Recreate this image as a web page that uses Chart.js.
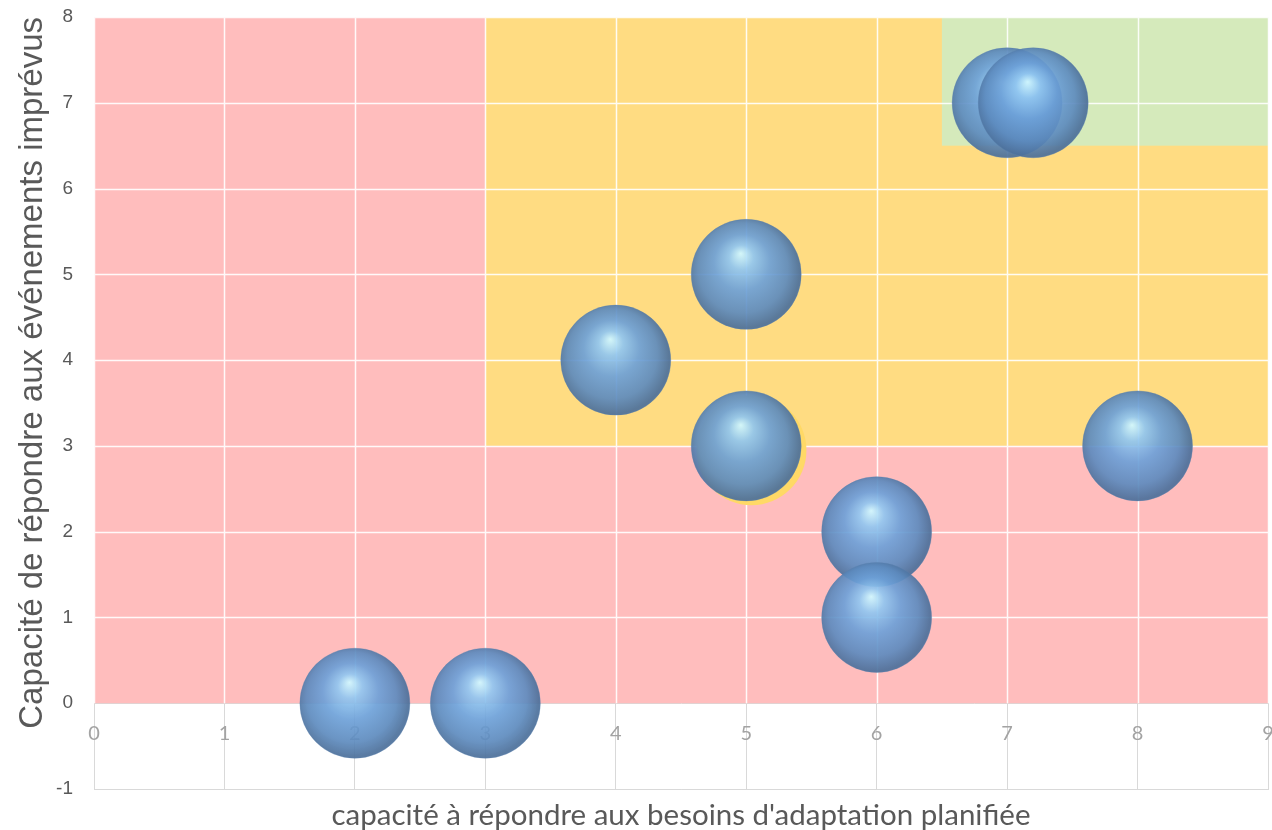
<!DOCTYPE html>
<html>
<head>
<meta charset="utf-8">
<script src="https://cdn.jsdelivr.net/npm/chart.js@4"></script>
<style>
  html, body { margin: 0; padding: 0; background: #fff; }
  #wrap { width: 1272px; height: 830px; }
</style>
</head>
<body>
<div id="wrap"><canvas id="chart"></canvas></div>
<script>
// bubbles (capacité planifiée, capacité imprévus)
const pointsX = [2, 3, 4, 5, 5, 6, 6, 7, 7.2, 8];
const pointsY = [0, 0, 4, 5, 3, 2, 1, 7, 7, 3];
const pointsSize = [1, 1, 1, 1, 1, 1, 1, 1, 1, 1];

// yellow bubble partly hidden behind (5,3)
const hiddenX = [5.04];
const hiddenY = [2.95];

// background zones
const zoneX0 = [0, 3, 6.5];
const zoneX1 = [9, 9, 9];
const zoneY0 = [0, 3, 6.5];
const zoneY1 = [8, 8, 8];
const zoneColors = ['#ffbdbd', '#ffdc82', '#d5eabb'];

const xTicks = [0, 1, 2, 3, 4, 5, 6, 7, 8, 9];
const yTicks = [-1, 0, 1, 2, 3, 4, 5, 6, 7, 8];

const BASE_R = 55;

function sphereFill(ctx) {
    const chart = ctx.chart;
    const xs = chart.scales.x, ys = chart.scales.y;
    if (!xs || !ys || !ctx.raw) return '#6f9fd2';
    const cx = xs.getPixelForValue(ctx.raw.x);
    const cy = ys.getPixelForValue(ctx.raw.y);
    if (!isFinite(cx) || !isFinite(cy)) return '#6f9fd2';
    const r = BASE_R * Math.sqrt(pointsSize[ctx.dataIndex] || 1);
    const g = chart.ctx.createRadialGradient(cx - r * 0.1, cy - r * 0.38, 0, cx - r * 0.05, cy - r * 0.05, r * 1.02);
    g.addColorStop(0, 'rgba(210,248,255,0.95)');
    g.addColorStop(0.22, 'rgba(145,198,240,0.92)');
    g.addColorStop(0.5, 'rgba(108,160,216,0.91)');
    g.addColorStop(0.8, 'rgba(92,138,190,0.91)');
    g.addColorStop(1, 'rgba(76,112,155,0.92)');
    return g;
}

const zonesPlugin = {
    id: 'zones',
    beforeDatasetsDraw(chart) {
        const c = chart.ctx;
        const xs = chart.scales.x, ys = chart.scales.y;
        c.save();
        for (let i = 0; i < zoneColors.length; i++) {
            const l = xs.getPixelForValue(zoneX0[i]);
            const r = xs.getPixelForValue(zoneX1[i]);
            const t = ys.getPixelForValue(zoneY1[i]);
            const b = ys.getPixelForValue(zoneY0[i]);
            c.fillStyle = zoneColors[i];
            c.fillRect(l, t, r - l, b - t);
        }
        // white grid over the coloured part
        const top = ys.getPixelForValue(8), bottom = ys.getPixelForValue(0);
        const left = xs.getPixelForValue(0), right = xs.getPixelForValue(9);
        c.strokeStyle = 'rgba(255,255,255,0.9)';
        c.lineWidth = 1.5;
        c.beginPath();
        xTicks.forEach(v => {
            const p = Math.round(xs.getPixelForValue(v)) + 0.5;
            c.moveTo(p, top); c.lineTo(p, bottom);
        });
        yTicks.filter(v => v > 0).forEach(v => {
            const p = Math.round(ys.getPixelForValue(v)) + 0.5;
            c.moveTo(left, p); c.lineTo(right, p);
        });
        c.stroke();
        // tick labels of x sit on the zero line, under the bubbles
        c.fillStyle = '#a3a3a3';
        c.font = '20px Lato, "Open Sans", sans-serif';
        c.textAlign = 'center';
        c.textBaseline = 'middle';
        const ly = ys.getPixelForValue(0) + 30;
        xTicks.forEach(v => c.fillText(String(v), xs.getPixelForValue(v), ly));
        c.restore();
    }
};

const data = {
    datasets: [
        {
            label: 'Projets',
            data: pointsX.map((x, i) => ({ x: x, y: pointsY[i] })),
            backgroundColor: sphereFill,
            borderColor: 'rgba(90,130,175,0.35)',
            borderWidth: 1,
            radius: (ctx) => BASE_R * Math.sqrt(pointsSize[ctx.dataIndex] || 1)
        },
        {
            label: 'cache',
            data: hiddenX.map((x, i) => ({ x: x, y: hiddenY[i] })),
            backgroundColor: '#ffd966',
            borderWidth: 0,
            radius: BASE_R
        }
    ]
};

const options = {
    responsive: true,
    maintainAspectRatio: false,
    animation: false,
    events: [],
    layout: {
        autoPadding: false,
        padding: { top: 17, right: 4, left: 0, bottom: 0 }
    },
    plugins: {
        legend: { display: false },
        tooltip: { enabled: false }
    },
    scales: {
        x: {
            type: 'linear',
            position: 'bottom',
            min: 0,
            max: 9,
            afterBuildTicks: (s) => { s.ticks = xTicks.map(v => ({ value: v })); },
            afterFit: (s) => { s.height = 41; s.paddingLeft = 0; s.paddingRight = 0; },
            ticks: { display: false },
            grid: { color: '#d9d9d9', drawTicks: false },
            border: { color: '#d9d9d9' },
            title: {
                display: true,
                text: "capacité à répondre aux besoins d'adaptation planifiée",
                color: '#595959',
                font: { family: 'Lato, "Open Sans", sans-serif', size: 29.5, lineHeight: 1 },
                padding: { top: 0, bottom: 0 }
            }
        },
        y: {
            type: 'linear',
            min: -1,
            max: 8,
            afterBuildTicks: (s) => { s.ticks = yTicks.map(v => ({ value: v })); },
            afterFit: (s) => { s.width = 94; s.paddingTop = 0; s.paddingBottom = 0; },
            ticks: {
                color: '#595959',
                padding: 21,
                font: { family: '"Liberation Sans", Arial, sans-serif', size: 19 }
            },
            grid: { color: '#d9d9d9', drawTicks: false },
            border: { color: '#d9d9d9' },
            title: {
                display: true,
                align: 'end',
                text: 'Capacité de répondre aux événements imprévus',
                color: '#595959',
                font: { family: '"Liberation Sans", Arial, sans-serif', size: 33, lineHeight: 1 },
                padding: { top: 16, bottom: 0 }
            }
        }
    }
};

const chart = new Chart(document.getElementById('chart'), {
    type: 'bubble',
    data: data,
    options: options,
    plugins: [zonesPlugin]
});
</script>
</body>
</html>
